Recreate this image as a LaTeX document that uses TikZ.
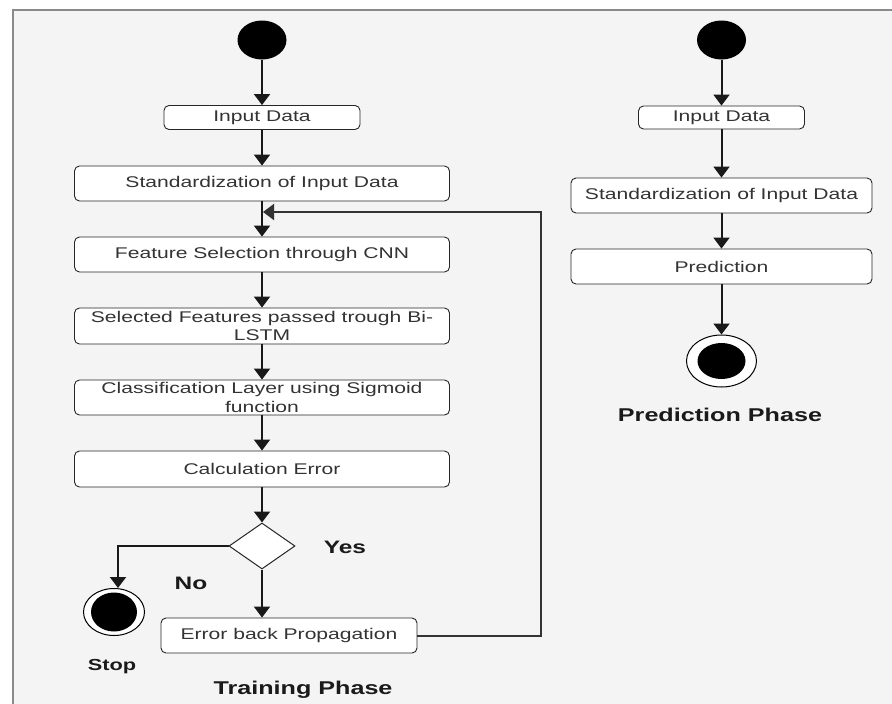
\documentclass[tikz,border=0pt]{standalone}
\usepackage{fontspec}
\setmainfont{Liberation Sans}[FakeStretch=1.36]
\usetikzlibrary{arrows.meta,shapes.geometric}
\definecolor{bgc}{HTML}{F4F4F4}
\definecolor{framec}{HTML}{8A8A8A}
\definecolor{txtc}{HTML}{333333}
\definecolor{lblc}{HTML}{1A1A1A}
\tikzset{
  box/.style={draw=black!85, line width=0.9pt, fill=white, rounded corners=5pt, inner sep=0pt,
              text=txtc, font=\fontsize{15.5}{18}\selectfont, align=center},
  arr/.style={line width=2pt, draw=black!90, -{Triangle[width=16pt,length=11pt]}},
  startdot/.style={ellipse, fill=black, inner sep=0pt},
  ringout/.style={ellipse, draw=black, line width=1pt, fill=white, inner sep=0pt},
  lbl/.style={font=\bfseries\fontsize{18}{20}\selectfont, text=lblc, inner sep=0pt},
  decis/.style={diamond, draw=black!85, line width=1pt, fill=white, inner sep=0pt}
}
\begin{document}
\begin{tikzpicture}[x=1pt,y=-1pt]
\useasboundingbox (0,0) rectangle (892,704);
\fill[white] (0,0) rectangle (892,704);
\fill[bgc] (13,10) rectangle (892,704);
\draw[framec, line width=2pt] (13,710) -- (13,10) -- (900,10);

% ---- Training phase ----
\node[startdot, minimum width=49pt, minimum height=39pt] (s1) at (262,40) {};
\node[box, minimum width=196pt, minimum height=24pt] (in1) at (262,117.5) {Input Data};
\node[box, minimum width=375pt, minimum height=35pt] (std1) at (262,183.5) {Standardization of Input Data};
\node[box, minimum width=375pt, minimum height=35pt] (fs) at (262,254.5) {Feature Selection through CNN};
\node[box, minimum width=375pt, minimum height=36pt] (sel) at (262,326) {\raisebox{1pt}{\shortstack{Selected Features passed trough Bi-\\[1pt]LSTM}}};
\node[box, minimum width=375pt, minimum height=35pt] (cls) at (262,397.5) {\shortstack{Classification Layer using Sigmoid\\[1pt]function}};
\node[box, minimum width=375pt, minimum height=36pt] (calc) at (262,469) {Calculation Error};
\node[decis, minimum width=66pt, minimum height=46pt, aspect=1.43] (dec) at (262,546) {};
\node[box, minimum width=256pt, minimum height=35pt] (ebp) at (289,635.5) {Error back Propagation};
\node[ringout, minimum width=61pt, minimum height=47pt] (stopo) at (114,612) {};
\node[startdot, minimum width=46pt, minimum height=39pt] (stopi) at (114,612) {};

\draw[arr] (s1.south) -- (in1.north);
\draw[arr] (in1.south) -- (std1.north);
\draw[arr] (std1.south) -- (fs.north);
\draw[arr] (fs.south) -- (sel.north);
\draw[arr] (sel.south) -- (cls.north);
\draw[arr] (cls.south) -- (calc.north);
\draw[arr] (calc.south) -- (dec.north);
\draw[arr] (dec.south) -- (dec.south |- ebp.north);
\coordinate (stopin) at (118,588);
\draw[arr] (dec.west) -| (stopin);
\coordinate (fbturn) at (541,212);
\coordinate (fbend) at (263,212);
\draw[arr, draw=black!80] (ebp.east) -| (fbturn) -- (fbend);

\node[lbl] (yes) at (345,547) {Yes};
\node[lbl] (no) at (191,583) {No};
\node[lbl, font=\bfseries\fontsize{16}{18}\selectfont] (stoplbl) at (112,667) {Stop};
\node[lbl, font=\bfseries\fontsize{18.5}{20}\selectfont] (tp) at (303,690) {Training Phase};

% ---- Prediction phase ----
\node[startdot, minimum width=49pt, minimum height=39pt] (s2) at (721.5,40) {};
\node[box, minimum width=166pt, minimum height=23pt] (in2) at (721.5,117.5) {Input Data};
\node[box, minimum width=301pt, minimum height=35pt] (std2) at (721.5,195.5) {Standardization of Input Data};
\node[box, minimum width=301pt, minimum height=35pt] (pred) at (721.5,266.5) {Prediction};
\node[ringout, minimum width=70pt, minimum height=52pt] (endo) at (721.5,361) {};
\node[startdot, minimum width=48pt, minimum height=36pt] (endi) at (721.5,361) {};

\draw[arr] (s2.south) -- (in2.north);
\draw[arr] (in2.south) -- (std2.north);
\draw[arr] (std2.south) -- (pred.north);
\draw[arr] (pred.south) -- (endo.north);

\node[lbl, font=\bfseries\fontsize{18.5}{20}\selectfont] (pp) at (720,415) {Prediction Phase};
\end{tikzpicture}
\end{document}
